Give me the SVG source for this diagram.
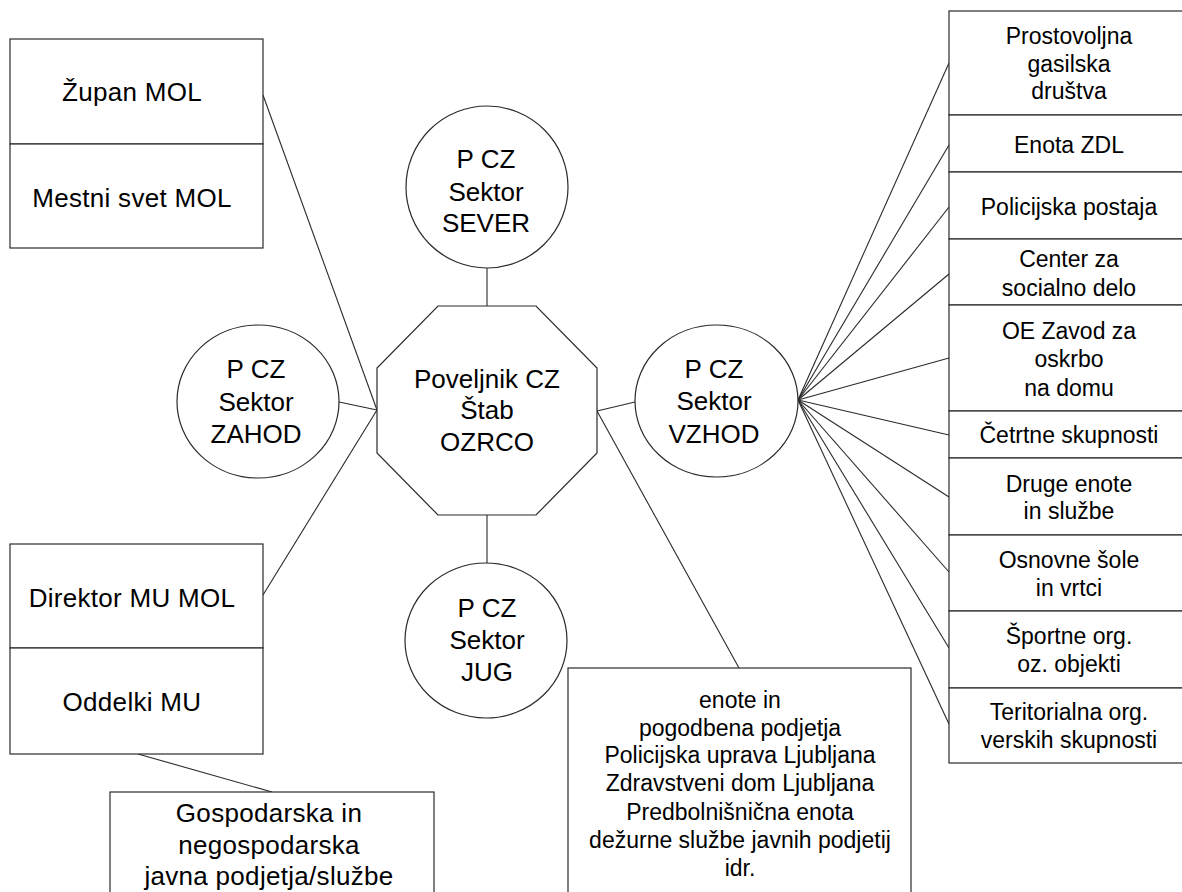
<svg xmlns="http://www.w3.org/2000/svg" width="1182" height="892" viewBox="0 0 1182 892">
<style>
.shape{fill:#fff;stroke:#2a2a2a;stroke-width:1.2}
.conn{stroke:#2a2a2a;stroke-width:1.1;fill:none}
text{font-family:"Liberation Sans",Arial,sans-serif;fill:#000;text-anchor:middle}
.big{font-size:26px}
.lt{font-size:26px;letter-spacing:0.3px}
.rt{font-size:23px}
</style>
<rect width="1182" height="892" fill="#fff"/>
<g id="connectors">
<line class="conn" x1="263" y1="95" x2="377" y2="410"/>
<line class="conn" x1="263" y1="595" x2="377" y2="410"/>
<line class="conn" x1="339" y1="402" x2="377" y2="410"/>
<line class="conn" x1="487" y1="268" x2="487" y2="306"/>
<line class="conn" x1="487" y1="515" x2="487" y2="563"/>
<line class="conn" x1="597" y1="411" x2="635" y2="402"/>
<line class="conn" x1="597" y1="411" x2="739" y2="668"/>
<line class="conn" x1="138" y1="754" x2="272" y2="792"/>
<line class="conn" x1="798" y1="400" x2="949" y2="63"/>
<line class="conn" x1="798" y1="400" x2="949" y2="145"/>
<line class="conn" x1="798" y1="400" x2="949" y2="207"/>
<line class="conn" x1="798" y1="400" x2="949" y2="274"/>
<line class="conn" x1="798" y1="400" x2="949" y2="358"/>
<line class="conn" x1="798" y1="400" x2="949" y2="435"/>
<line class="conn" x1="798" y1="400" x2="949" y2="497"/>
<line class="conn" x1="798" y1="400" x2="949" y2="572"/>
<line class="conn" x1="798" y1="400" x2="949" y2="648"/>
<line class="conn" x1="798" y1="400" x2="949" y2="724"/>
</g>
<g id="zupan-box">
<rect class="shape" x="10" y="39" width="253" height="105"/>
<text class="lt" x="132" y="101">Župan MOL</text>
</g>
<g id="mestni-svet">
<rect class="shape" x="10" y="144" width="253" height="104"/>
<text class="lt" x="132" y="207">Mestni svet MOL</text>
</g>
<g id="direktor">
<rect class="shape" x="10" y="544" width="253" height="104"/>
<text class="lt" x="132" y="607">Direktor MU MOL</text>
</g>
<g id="oddelki">
<rect class="shape" x="10" y="648" width="253" height="106"/>
<text class="lt" x="132" y="711">Oddelki MU</text>
</g>
<g id="gospodarska">
<rect class="shape" x="110" y="792" width="324" height="110"/>
<text class="lt" x="269" y="822">Gospodarska in</text>
<text class="lt" x="269" y="854">negospodarska</text>
<text class="lt" x="269" y="885">javna podjetja/službe</text>
</g>
<g id="sever">
<ellipse class="shape" cx="487" cy="187" rx="81" ry="81"/>
<text class="big" x="486" y="168">P CZ</text>
<text class="big" x="486" y="201">Sektor</text>
<text class="big" x="486" y="232">SEVER</text>
</g>
<g id="zahod">
<ellipse class="shape" cx="258" cy="401.5" rx="81" ry="76.5"/>
<text class="big" x="256" y="378">P CZ</text>
<text class="big" x="256" y="411">Sektor</text>
<text class="big" x="256" y="443">ZAHOD</text>
</g>
<g id="vzhod">
<ellipse class="shape" cx="716.5" cy="401" rx="81.5" ry="76"/>
<text class="big" x="714" y="378">P CZ</text>
<text class="big" x="714" y="410">Sektor</text>
<text class="big" x="714" y="443">VZHOD</text>
</g>
<g id="jug">
<ellipse class="shape" cx="486" cy="640.5" rx="81" ry="77.5"/>
<text class="big" x="487" y="617">P CZ</text>
<text class="big" x="487" y="649">Sektor</text>
<text class="big" x="487" y="681">JUG</text>
</g>
<g id="poveljnik">
<polygon class="shape" points="438,306 536,306 597,368 597,453 536,515 438,515 377,453 377,368"/>
<text class="big" x="487" y="388">Poveljnik CZ</text>
<text class="big" x="487" y="419">Štab</text>
<text class="big" x="487" y="451">OZRCO</text>
</g>
<g id="enote">
<rect class="shape" x="568" y="668" width="343" height="240"/>
<text class="rt" x="740" y="708">enote in</text>
<text class="rt" x="740" y="736">pogodbena podjetja</text>
<text class="rt" x="740" y="763">Policijska uprava Ljubljana</text>
<text class="rt" x="740" y="791">Zdravstveni dom Ljubljana</text>
<text class="rt" x="740" y="820">Predbolnišnična enota</text>
<text class="rt" x="740" y="848">dežurne službe javnih podjetij</text>
<text class="rt" x="740" y="876">idr.</text>
</g>
<g id="r1">
<rect class="shape" x="949" y="11" width="250" height="104"/>
<text class="rt" x="1069" y="44">Prostovoljna</text>
<text class="rt" x="1069" y="72">gasilska</text>
<text class="rt" x="1069" y="99">društva</text>
</g>
<g id="r2">
<rect class="shape" x="949" y="115" width="250" height="57"/>
<text class="rt" x="1069" y="153">Enota ZDL</text>
</g>
<g id="r3">
<rect class="shape" x="949" y="172" width="250" height="67"/>
<text class="rt" x="1069" y="215">Policijska postaja</text>
</g>
<g id="r4">
<rect class="shape" x="949" y="239" width="250" height="66"/>
<text class="rt" x="1069" y="267">Center za</text>
<text class="rt" x="1069" y="296">socialno delo</text>
</g>
<g id="r5">
<rect class="shape" x="949" y="305" width="250" height="106"/>
<text class="rt" x="1069" y="339">OE Zavod za</text>
<text class="rt" x="1069" y="367">oskrbo</text>
<text class="rt" x="1069" y="396">na domu</text>
</g>
<g id="r6">
<rect class="shape" x="949" y="411" width="250" height="47"/>
<text class="rt" x="1069" y="443">Četrtne skupnosti</text>
</g>
<g id="r7">
<rect class="shape" x="949" y="458" width="250" height="77"/>
<text class="rt" x="1069" y="492">Druge enote</text>
<text class="rt" x="1069" y="519">in službe</text>
</g>
<g id="r8">
<rect class="shape" x="949" y="535" width="250" height="76"/>
<text class="rt" x="1069" y="568">Osnovne šole</text>
<text class="rt" x="1069" y="596">in vrtci</text>
</g>
<g id="r9">
<rect class="shape" x="949" y="611" width="250" height="77"/>
<text class="rt" x="1069" y="644">Športne org.</text>
<text class="rt" x="1069" y="672">oz. objekti</text>
</g>
<g id="r10">
<rect class="shape" x="949" y="688" width="250" height="75"/>
<text class="rt" x="1069" y="720">Teritorialna org.</text>
<text class="rt" x="1069" y="748">verskih skupnosti</text>
</g>
</svg>
